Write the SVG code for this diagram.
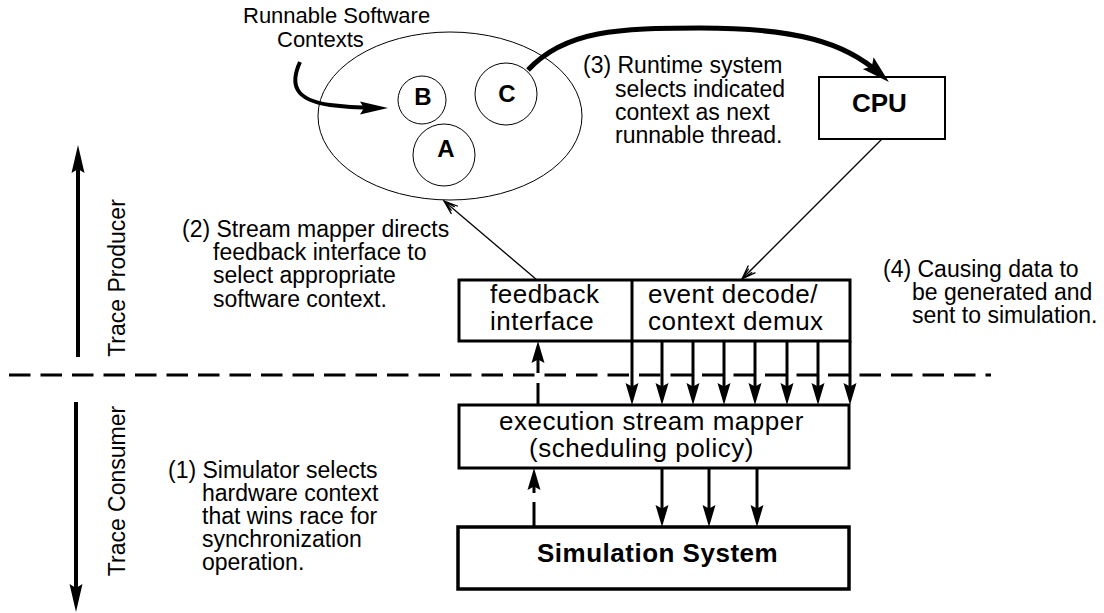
<svg xmlns="http://www.w3.org/2000/svg" width="1104" height="613" viewBox="0 0 1104 613">
<style>
text{font-family:"Liberation Sans",Arial,Helvetica,sans-serif;fill:#000}
.a{font-size:23px}
.r{font-size:22px}
.bx{font-size:26px;letter-spacing:0.5px}
.bold{font-weight:bold}
.box{fill:#fff;stroke:#000;stroke-width:3}
.thin{fill:none;stroke:#000;stroke-width:1.3}
.ln3{fill:none;stroke:#000;stroke-width:3}
.ln4{fill:none;stroke:#000;stroke-width:4}
</style>
<defs>
<marker id="ah" markerUnits="userSpaceOnUse" viewBox="-14 -8 26 16" markerWidth="26" markerHeight="16" refX="0" refY="0" orient="auto" overflow="visible">
<path d="M10,0 L-12,-6.5 L-8.5,0 L-12,6.5 Z" fill="#000"/>
</marker>
<marker id="ahL" markerUnits="userSpaceOnUse" viewBox="-18 -9 32 18" markerWidth="32" markerHeight="18" refX="0" refY="0" orient="auto" overflow="visible">
<path d="M12,0 L-16,-6.5 L-12,0 L-16,6.5 Z" fill="#000"/>
</marker>
<marker id="ahB" markerUnits="userSpaceOnUse" viewBox="-18 -10 32 20" markerWidth="32" markerHeight="20" refX="0" refY="0" orient="auto" overflow="visible">
<path d="M12,0 L-16,-8 L-11,0 L-16,8 Z" fill="#000"/>
</marker>
<marker id="open" markerUnits="userSpaceOnUse" viewBox="-16 -8 18 16" markerWidth="18" markerHeight="16" refX="0" refY="0" orient="auto" overflow="visible">
<path d="M-14,-5 L0,0 L-14,5 M-12,-2.5 L0,0 L-12,2.5" fill="none" stroke="#000" stroke-width="1.3"/>
</marker>
</defs>

<g id="divider">
<line x1="9" y1="375" x2="991" y2="375" stroke="#000" stroke-width="3" stroke-dasharray="21.5 10"/>
</g>

<g id="side-labels">
<line x1="78" y1="357" x2="78" y2="157" class="ln4" marker-end="url(#ahL)"/>
<text class="a" transform="translate(125,278) rotate(-90)" text-anchor="middle">Trace Producer</text>
<line x1="76" y1="402" x2="76" y2="600" class="ln4" marker-end="url(#ahL)"/>
<text class="a" transform="translate(125,491) rotate(-90)" text-anchor="middle">Trace Consumer</text>
</g>

<g id="contexts">
<ellipse cx="450" cy="116" rx="132" ry="84" fill="none" stroke="#000" stroke-width="1"/>
<g id="ctx-B"><circle cx="422" cy="100" r="24" fill="none" stroke="#000" stroke-width="1"/><text class="bold" x="423" y="105" font-size="24" text-anchor="middle">B</text></g>
<g id="ctx-C"><circle cx="506" cy="94" r="31" fill="none" stroke="#000" stroke-width="1"/><text class="bold" x="507" y="102" font-size="24" text-anchor="middle">C</text></g>
<g id="ctx-A"><circle cx="444" cy="155" r="31" fill="none" stroke="#000" stroke-width="1"/><text class="bold" x="446" y="157" font-size="24" text-anchor="middle">A</text></g>
<text class="r" x="243" y="23">Runnable Software</text>
<text class="r" x="277" y="47">Contexts</text>
</g>

<g id="cpu">
<rect x="819" y="77" width="126" height="62" fill="#fff" stroke="#000" stroke-width="2"/>
<text class="bold" x="852" y="112" font-size="26">CPU</text>
</g>

<g id="feedback-demux">
<rect class="box" x="459" y="280" width="391" height="61"/>
<line x1="632" y1="280" x2="632" y2="341" stroke="#000" stroke-width="3"/>
<text class="bx" x="490" y="303">feedback</text>
<text class="bx" x="490" y="330">interface</text>
<text class="bx" x="648" y="303">event decode/</text>
<text class="bx" x="648" y="330">context demux</text>
</g>

<g id="mapper">
<rect class="box" x="459" y="405" width="390" height="63"/>
<text class="bx" x="499" y="430">execution stream mapper</text>
<text class="bx" x="529" y="457">(scheduling policy)</text>
</g>

<g id="simulation">
<rect x="458" y="527" width="391" height="62" fill="#fff" stroke="#000" stroke-width="3.5"/>
<text class="bx bold" x="537" y="562">Simulation System</text>
</g>

<g id="annotations">
<text class="a" x="583" y="73">(3) Runtime system</text>
<text class="a" x="615" y="97">selects indicated</text>
<text class="a" x="615" y="120">context as next</text>
<text class="a" x="615" y="143">runnable thread.</text>
<text class="a" x="182" y="237">(2) Stream mapper directs</text>
<text class="a" x="213" y="260">feedback interface to</text>
<text class="a" x="213" y="283">select appropriate</text>
<text class="a" x="213" y="307">software context.</text>
<text class="a" x="883" y="277">(4) Causing data to</text>
<text class="a" x="912" y="300">be generated and</text>
<text class="a" x="912" y="323">sent to simulation.</text>
<text class="a" x="168" y="478">(1) Simulator selects</text>
<text class="a" x="202" y="501">hardware context</text>
<text class="a" x="202" y="524">that wins race for</text>
<text class="a" x="202" y="547">synchronization</text>
<text class="a" x="202" y="570">operation.</text>
</g>

<g id="connectors">
<path class="ln4" d="M300,62 C290,84 294,100 330,105 C345,107 358,108 376,108" marker-end="url(#ahL)"/>
<path d="M528,70 C565,30 620,28 700,28 C795,28 845,42 880,74" fill="none" stroke="#000" stroke-width="5" marker-end="url(#ahB)"/>
<line class="thin" x1="882" y1="139" x2="742" y2="279" marker-end="url(#open)"/>
<line class="thin" x1="537" y1="280" x2="444" y2="201" marker-end="url(#open)"/>
<line class="ln3" x1="632" y1="341" x2="632" y2="395" marker-end="url(#ah)"/>
<line class="ln3" x1="662" y1="341" x2="662" y2="395" marker-end="url(#ah)"/>
<line class="ln3" x1="693" y1="341" x2="693" y2="395" marker-end="url(#ah)"/>
<line class="ln3" x1="724" y1="341" x2="724" y2="395" marker-end="url(#ah)"/>
<line class="ln3" x1="755" y1="341" x2="755" y2="395" marker-end="url(#ah)"/>
<line class="ln3" x1="787" y1="341" x2="787" y2="395" marker-end="url(#ah)"/>
<line class="ln3" x1="818" y1="341" x2="818" y2="395" marker-end="url(#ah)"/>
<line class="ln3" x1="850" y1="341" x2="850" y2="395" marker-end="url(#ah)"/>
<line class="ln3" x1="662" y1="468" x2="662" y2="517" marker-end="url(#ah)"/>
<line class="ln3" x1="709" y1="468" x2="709" y2="517" marker-end="url(#ah)"/>
<line class="ln3" x1="757" y1="468" x2="757" y2="517" marker-end="url(#ah)"/>
<line class="ln3" x1="538" y1="405" x2="538" y2="383"/>
<line class="ln3" x1="538" y1="373" x2="538" y2="351" marker-end="url(#ah)"/>
<line class="ln3" x1="534" y1="527" x2="534" y2="502"/>
<line class="ln3" x1="534" y1="493" x2="534" y2="478" marker-end="url(#ah)"/>
</g>
</svg>
